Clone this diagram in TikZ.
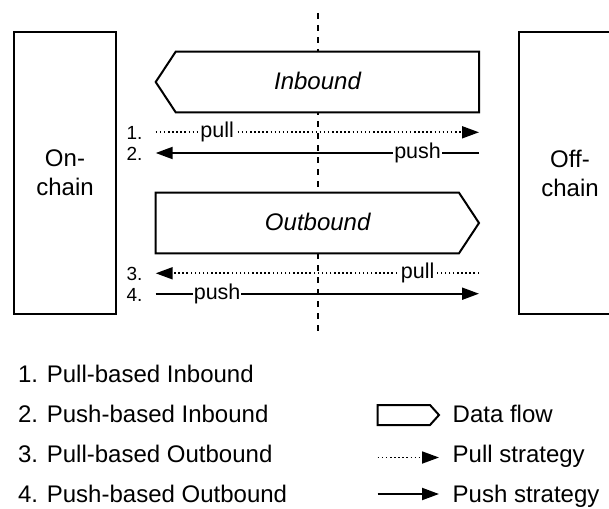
\documentclass[tikz,border=0pt]{standalone}
\usepackage{fontspec}
\setmainfont{Liberation Sans}
\usetikzlibrary{arrows.meta}
\begin{document}
\begin{tikzpicture}[x=1pt,y=-1pt,
  every node/.style={inner sep=0pt, outer sep=0pt},
  frame/.style={draw, line width=2pt, fill=white},
  midline/.style={line width=2pt, dash pattern=on 6pt off 6pt},
  tipA/.style={-{Triangle[length=17pt,width=12pt]}},
  pushline/.style={line width=2pt, tipA},
  pullline/.style={line width=1.8pt, dash pattern=on 1.5pt off 2.6pt, tipA},
  maintxt/.style={font=\fontsize{24}{29}\selectfont},
  lbl/.style={font=\fontsize{21.5}{25}\selectfont, fill=white, inner xsep=1pt},
  num/.style={font=\fontsize{19}{22}\selectfont, anchor=base west},
  legtxt/.style={maintxt, anchor=base west},
]
\useasboundingbox (0,0) rectangle (609,508);
\fill[white] (0,0) rectangle (609,508);

% central dashed divider
\coordinate (vt) at (317.7,13);
\coordinate (vb) at (317.7,334);
\draw[midline] (vt) -- (vb);

% side boxes
\node[frame, minimum width=102pt, minimum height=282pt, maintxt, align=center] (onchain) at (65,173) {On-\\chain};
\begin{scope}
\clip (0,0) rectangle (609,508);
\node[frame, minimum width=102pt, minimum height=282pt, maintxt, align=center] (offchain) at (570,173) {Off-\\chain};
\end{scope}

% data flow shapes
\draw[frame] (155.7,82) -- (175.7,51.7) -- (479,51.7) -- (479,112.3) -- (175.7,112.3) -- cycle;
\node[maintxt, anchor=base] (inbound) at (317.5,89.8) {\itshape Inbound};
\draw[frame] (155.7,192.7) -- (459,192.7) -- (479,223) -- (459,253.3) -- (155.7,253.3) -- cycle;
\node[maintxt, anchor=base] (outbound) at (317.7,230.5) {\itshape Outbound};

% arrows
\coordinate (a1s) at (155.7,132.3); \coordinate (a1e) at (479,132.3);
\coordinate (a2s) at (479,153);     \coordinate (a2e) at (155.7,153);
\coordinate (a3s) at (479,273.3);   \coordinate (a3e) at (155.7,273.3);
\coordinate (a4s) at (155.7,293.7); \coordinate (a4e) at (479,293.7);
\draw[pullline] (a1s) -- node[lbl, pos=0.19] (p1) {pull} (a1e);
\draw[pushline] (a2s) -- node[lbl, pos=0.19] (p2) {push} (a2e);
\draw[pullline] (a3s) -- node[lbl, pos=0.19] (p3) {pull} (a3e);
\draw[pushline] (a4s) -- node[lbl, pos=0.19] (p4) {push} (a4e);

\node[num] (n1) at (126.5,139.5) {1.};
\node[num] (n2) at (126.5,160.3) {2.};
\node[num] (n3) at (126.5,280.5) {3.};
\node[num] (n4) at (126.5,301) {4.};

% legend
\node[legtxt] (l1) at (18,382) {1. Pull-based Inbound};
\node[legtxt] (l2) at (18,422) {2. Push-based Inbound};
\node[legtxt] (l3) at (18,462) {3. Pull-based Outbound};
\node[legtxt] (l4) at (18,502) {4. Push-based Outbound};

\draw[frame] (377.7,405) -- (430,405) -- (439,415) -- (430,425) -- (377.7,425) -- cycle;
\node[legtxt] (ldf) at (452.7,422) {Data flow};
\coordinate (pls) at (377.7,457.5); \coordinate (ple) at (439,457.5);
\draw[pullline] (pls) -- (ple);
\node[legtxt] (lpl) at (452.7,462) {Pull strategy};
\coordinate (pss) at (377.7,494); \coordinate (pse) at (439,494);
\draw[pushline] (pss) -- (pse);
\node[legtxt] (lps) at (452.7,502) {Push strategy};
\end{tikzpicture}
\end{document}
